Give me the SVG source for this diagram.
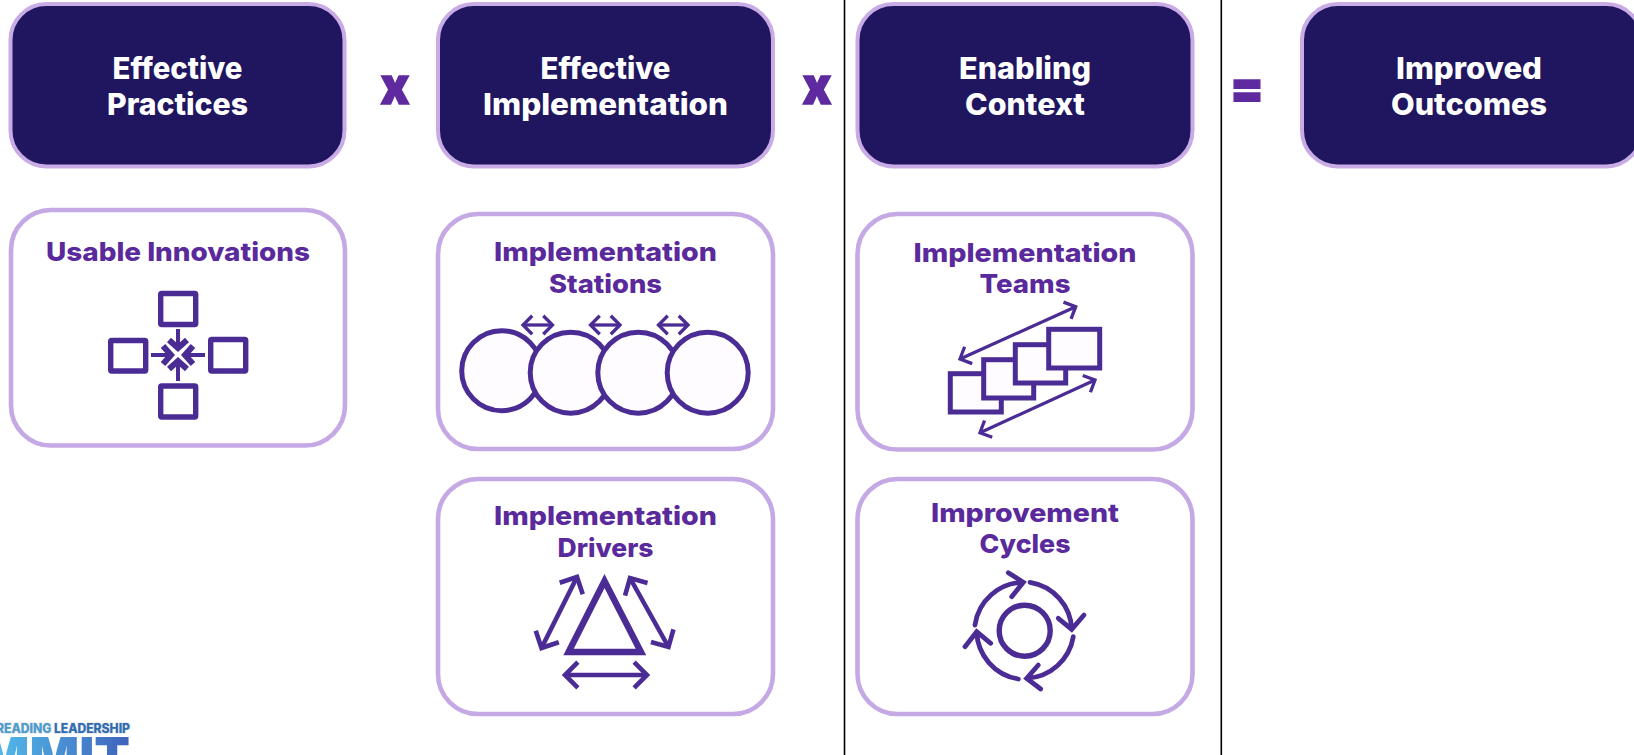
<svg xmlns="http://www.w3.org/2000/svg" width="1634" height="755" viewBox="0 0 1634 755">
<style>
text{font-family:Inter,"Liberation Sans",sans-serif;text-anchor:middle}
.top{fill:#20155f;stroke:#c9abe6;stroke-width:4}
.card{fill:#fff;stroke:#c5a9e5;stroke-width:4.6}
.h{font-size:30px;font-weight:800;fill:#fff}
.s{font-size:26px;font-weight:800;fill:#5a2a9c}
.op{font-size:52px;font-weight:900;fill:#5f2a9f;stroke:#5f2a9f;stroke-width:1.4px}
.i{fill:none;stroke:#4b2c94;stroke-width:5.4}
.p{fill:#fefcfe;stroke:#4b2c94;stroke-width:5}
.a{fill:none;stroke:#4b2c94;stroke-width:3.3;marker-start:url(#chev);marker-end:url(#chev)}
.e{fill:none;stroke:#4b2c94;stroke-width:4.8;stroke-linecap:round}
</style>
<defs>
<marker id="chev" viewBox="-5 -5 6 10" markerWidth="6" markerHeight="10" refX="0" refY="0" markerUnits="strokeWidth" orient="auto-start-reverse"><path d="M-2.8,-2.8 L0,0 L-2.8,2.8" fill="none" stroke="#4b2c94" stroke-width="1"/></marker>
<linearGradient id="lg" x1="0" y1="0" x2="1" y2="0"><stop offset="0" stop-color="#55c6f0"/><stop offset="1" stop-color="#3f62bb"/></linearGradient>
</defs>
<rect width="1634" height="755" fill="#fff"/>
<g id="dividers" stroke="#000" stroke-width="1.6"><line x1="844.5" y1="0" x2="844.5" y2="755"/><line x1="1221.3" y1="0" x2="1221.3" y2="755"/></g>

<g id="effective-practices"><rect class="top" x="10.5" y="4" width="334" height="162.5" rx="36"/>
<text class="h" x="177.5" y="78.5" textLength="130" lengthAdjust="spacingAndGlyphs">Effective</text><text class="h" x="177.5" y="114.5" textLength="141" lengthAdjust="spacingAndGlyphs">Practices</text></g>
<g id="effective-implementation"><rect class="top" x="438" y="4" width="335" height="162.5" rx="36"/>
<text class="h" x="605.5" y="78.5" textLength="130" lengthAdjust="spacingAndGlyphs">Effective</text><text class="h" x="605.5" y="114.5" textLength="245" lengthAdjust="spacingAndGlyphs">Implementation</text></g>
<g id="enabling-context"><rect class="top" x="857.5" y="4" width="335" height="162.5" rx="36"/>
<text class="h" x="1025" y="78.5" textLength="132" lengthAdjust="spacingAndGlyphs">Enabling</text><text class="h" x="1025" y="114.5" textLength="120" lengthAdjust="spacingAndGlyphs">Context</text></g>
<g id="improved-outcomes"><rect class="top" x="1302" y="4" width="340" height="162.5" rx="36"/>
<text class="h" x="1469" y="78.5" textLength="146" lengthAdjust="spacingAndGlyphs">Improved</text><text class="h" x="1469" y="114.5" textLength="156" lengthAdjust="spacingAndGlyphs">Outcomes</text></g>

<g id="operators">
<text class="op" x="395" y="104" textLength="29" lengthAdjust="spacingAndGlyphs">x</text>
<text class="op" x="817" y="104" textLength="29" lengthAdjust="spacingAndGlyphs">x</text>
<text class="op" x="1247" y="106" textLength="34" lengthAdjust="spacingAndGlyphs">=</text>
</g>

<g id="usable-innovations"><rect class="card" x="11" y="210" width="334" height="235.5" rx="40"/>
<text class="s" x="178" y="260.5" textLength="264" lengthAdjust="spacingAndGlyphs">Usable Innovations</text>
<rect class="i" x="160.7" y="293.5" width="35" height="31" rx="1"/>
<rect class="i" x="110.7" y="340.5" width="35" height="30.5" rx="1"/>
<rect class="i" x="210.7" y="339.5" width="35" height="31.5" rx="1"/>
<rect class="i" x="160.7" y="386" width="35" height="31" rx="1"/>
<g class="i"><path d="M178 329V347" stroke-width="4"/><path d="M169 340L178 348L187 340" stroke-width="6"/>
<path d="M178 381V362" stroke-width="4"/><path d="M169 369L178 361L187 369" stroke-width="6"/>
<path d="M151 355H170" stroke-width="4"/><path d="M163 346L171 355L163 364" stroke-width="6"/>
<path d="M205 355H186" stroke-width="4"/><path d="M193 346L185 355L193 364" stroke-width="6"/></g></g>

<g id="implementation-stations"><rect class="card" x="438" y="214" width="335" height="235" rx="40"/>
<text class="s" x="605.5" y="261" textLength="223" lengthAdjust="spacingAndGlyphs">Implementation</text><text class="s" x="605.5" y="293" textLength="113" lengthAdjust="spacingAndGlyphs">Stations</text>
<circle class="p" cx="501.7" cy="370.7" r="40"/><circle class="p" cx="570.7" cy="372.7" r="40.5"/><circle class="p" cx="638.3" cy="372.7" r="40.5"/><circle class="p" cx="707.7" cy="372.7" r="40.5"/>
<line class="a" x1="523" y1="325" x2="552.5" y2="325"/><line class="a" x1="590.5" y1="325" x2="620" y2="325"/><line class="a" x1="658.5" y1="325" x2="688" y2="325"/></g>

<g id="implementation-drivers"><rect class="card" x="438" y="479" width="335" height="235" rx="40"/>
<text class="s" x="605.5" y="525" textLength="223" lengthAdjust="spacingAndGlyphs">Implementation</text><text class="s" x="605.5" y="557" textLength="96" lengthAdjust="spacingAndGlyphs">Drivers</text>
<polygon class="i" points="568.5,652 641,652 604.5,581" style="stroke-width:6.4"/>
<g class="a" style="stroke-width:4.6"><line x1="577" y1="577" x2="541.5" y2="648"/><line x1="630" y1="578" x2="668.5" y2="647"/><line x1="565" y1="675" x2="647" y2="675"/></g></g>

<g id="implementation-teams"><rect class="card" x="857.5" y="214" width="335" height="235.5" rx="40"/>
<text class="s" x="1025" y="262" textLength="223" lengthAdjust="spacingAndGlyphs">Implementation</text><text class="s" x="1025" y="293" textLength="91" lengthAdjust="spacingAndGlyphs">Teams</text>
<rect class="p" x="950.3" y="373.7" width="51" height="38.3"/><rect class="p" x="983.7" y="359.7" width="50" height="38.3"/><rect class="p" x="1015.3" y="344.7" width="50.4" height="38.3"/><rect class="p" x="1048.7" y="329.3" width="51" height="38.7"/>
<line class="a" x1="960" y1="359" x2="1075.7" y2="306.7"/><line class="a" x1="980" y1="432.7" x2="1095" y2="380"/></g>

<g id="improvement-cycles"><rect class="card" x="857.5" y="479" width="335" height="235" rx="40"/>
<text class="s" x="1025" y="521.5" textLength="188" lengthAdjust="spacingAndGlyphs">Improvement</text><text class="s" x="1025" y="553" textLength="91" lengthAdjust="spacingAndGlyphs">Cycles</text>
<circle class="i" cx="1024.7" cy="630.7" r="25.5"/>
<path class="e" d="M975 625A49.5 49.5 0 0 1 1023.3 582.3M1008.3 572.7L1023.3 582.3L1011.7 596.7"/>
<path class="e" d="M1030 582.3A49.5 49.5 0 0 1 1071.7 629.3M1058.3 618.3L1071.7 629.3L1084 615"/>
<path class="e" d="M1073.3 636.7A49.5 49.5 0 0 1 1026.7 678.3M1038.3 665L1026.7 678.3L1040.7 689"/>
<path class="e" d="M1018.3 679A49.5 49.5 0 0 1 976.7 631.7M965 646.7L976.7 631.7L990.7 643.3"/></g>

<g id="summit-logo">
<text x="-4" y="733" textLength="134" lengthAdjust="spacingAndGlyphs" style="text-anchor:start;font-size:12.6px;font-weight:800;paint-order:stroke;stroke:#d9dee6;stroke-width:1.2px"><tspan fill="#4d9ccb">READING </tspan><tspan fill="#2f6cb0">LEADERSHIP</tspan></text>
<text x="130" y="775" style="text-anchor:end;font-size:52px;font-weight:900;fill:url(#lg)">MMIT</text>
</g>
</svg>
